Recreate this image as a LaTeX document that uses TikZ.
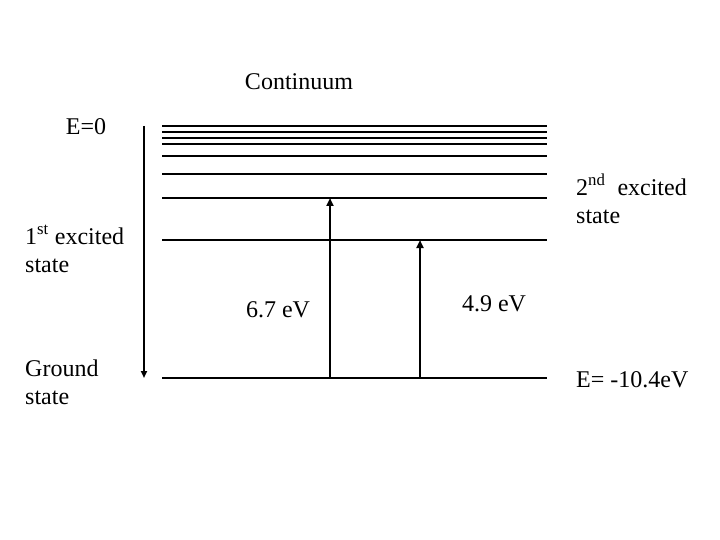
\documentclass[tikz,border=0pt]{standalone}
\usepackage{fontspec}
\setmainfont{Liberation Serif}
\usetikzlibrary{arrows.meta}

\begin{document}
\begin{tikzpicture}[x=1pt,y=-1pt,
    lbl/.style={font=\fontsize{24}{28}\selectfont, inner sep=0pt, align=left},
    level/.style={line width=1.2pt},
    trans/.style={line width=2pt, -{Triangle[length=8pt,width=7pt]}}]
  \useasboundingbox (0,0) rectangle (720,540);
  % energy levels
  \foreach \y [count=\i] in {126,132,138,144,156,174,198,240,378} {
    \coordinate (L\i) at (162,\y);
    \coordinate (R\i) at (547,\y);
    \draw [level] (L\i) -- (R\i);
  }
  % labels (multi-line ones sit on their last line)
  \node [lbl, anchor=base] (cont) at (299,90) {Continuum};
  \node [lbl, anchor=base] (E0) at (86,135) {E=0};
  \node [lbl, anchor=base west] (second) at (576,223) {2\textsuperscript{nd}\ \ excited\\state};
  \node [lbl, anchor=base west] (first) at (25,272) {1\textsuperscript{st} excited\\state};
  \node [lbl, anchor=base west] (ground) at (25,404) {Ground\\state};
  \node [lbl, anchor=base west] (Eg) at (576,387) {E= -10.4eV};
  \node [lbl, anchor=base] (e67) at (278,317) {6.7 eV};
  \node [lbl, anchor=base] (e49) at (494,311) {4.9 eV};
  % arrows
  \coordinate (top) at (144,126);
  \coordinate (bot) at (144,378);
  \draw [line width=2pt, -{Triangle[length=7pt,width=6pt]}] (top) -- (bot);
  \coordinate (a0) at (330,378);
  \coordinate (a1) at (330,198);
  \coordinate (b0) at (420,378);
  \coordinate (b1) at (420,240);
  \draw [trans] (a0) -- (a1);
  \draw [trans] (b0) -- (b1);
\end{tikzpicture}
\end{document}
